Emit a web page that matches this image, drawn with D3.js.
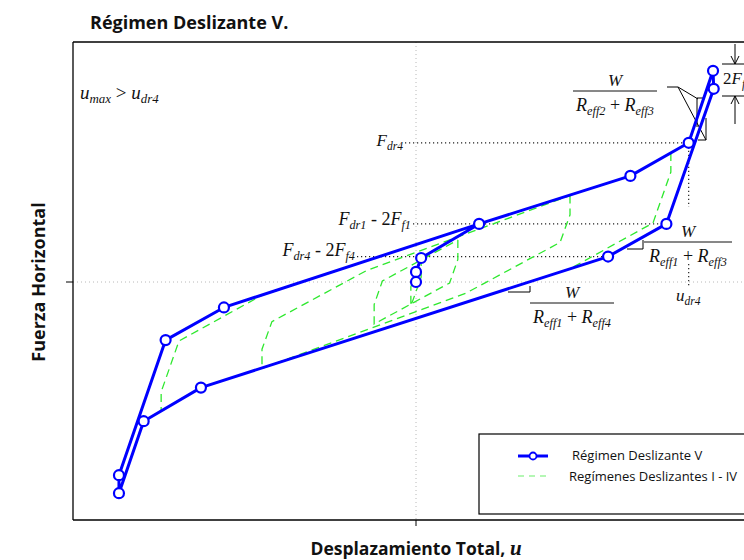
<!DOCTYPE html>
<html><head><meta charset="utf-8">
<script src="https://cdn.jsdelivr.net/npm/d3@7"></script>
<style>body{margin:0;background:#fff}</style>
</head><body>
<svg id="chart" width="744" height="560"></svg>
<script>
// Régimen Deslizante V: complete loop (normalised displacement u, force F)
const regimeV_u = [0, 0, 1.5, 18.4, 62.5, 79.5, 86.6, 86.8, 73.0, 56.0, -62.7, -79.4, -86.6, -86.6, -73.0, -56.0, 18.4];
const regimeV_F = [0, 4.2, 10.0, 24.2, 44.2, 58.0, 88.0, 80.5, 24.2, 10.6, -44.0, -58.0, -88.0, -80.5, -24.2, -10.6, 24.2];

// Regímenes Deslizantes I - IV
const initial_u = [0, 0, 1.5, 18.4];
const initial_F = [0, 4.2, 10.0, 24.2];
const regimeI_u = [1.5, 1.5, -1.5, -1.5, 1.5];
const regimeI_F = [10.0, 2.0, -10.0, -2.0, 10.0];
const regimeII_u = [12.2, 12.2, 9.8, -12.2, -12.2, -9.8, 12.2];
const regimeII_F = [17.5, 9.4, -0.4, -17.5, -9.4, 0.4, 17.5];
const regimeIII_u = [44.9, 44.9, 42.0, 14.5, -44.9, -44.9, -42.0, -14.5, 44.9];
const regimeIII_F = [36.0, 28.0, 16.5, -4.7, -36.0, -28.0, -16.5, 4.7, 36.0];
const regimeIV_u = [74.3, 74.3, 69.1, 44.9, -62.7, -74.3, -74.3, -69.1, -44.9, 18.4, 62.5, 74.3];
const regimeIV_F = [53.8, 45.8, 24.6, 5.5, -44.0, -53.8, -45.8, -24.6, -5.5, 24.2, 44.2, 53.8];

// Reference levels
const F_dr4 = 58.0, F_dr1_2Ff1 = 24.2, F_dr4_2Ff4 = 10.6, u_dr4 = 79.5;

const svg = d3.select("#chart");
const x = d3.scaleLinear().domain([-100, 100]).range([73, 759]);
const y = d3.scaleLinear().domain([-100, 100]).range([522, 42]);
const frame = {left: 73, top: 42, bottom: 520, right: 760};

const zip = (us, fs) => us.map((u, i) => [u, fs[i]]);
const line = d3.line().x(d => x(d[0])).y(d => y(d[1]));

const plot = svg.append("g");
svg.append("defs").append("clipPath").attr("id", "clip")
  .append("rect").attr("x", frame.left).attr("y", frame.top)
  .attr("width", frame.right - frame.left).attr("height", frame.bottom - frame.top);

// centre grid lines
plot.append("line").attr("x1", x(0)).attr("x2", x(0)).attr("y1", frame.top).attr("y2", frame.bottom)
  .attr("stroke", "#b8b8b8").attr("stroke-dasharray", "1,3");
plot.append("line").attr("x1", frame.left).attr("x2", frame.right).attr("y1", y(0)).attr("y2", y(0))
  .attr("stroke", "#b8b8b8").attr("stroke-dasharray", "1,3");

// frame and centre ticks
plot.append("line").attr("x1", frame.left).attr("x2", frame.right).attr("y1", frame.top).attr("y2", frame.top).attr("stroke", "#000").attr("stroke-width", 1.3);
plot.append("line").attr("x1", frame.left).attr("x2", frame.right).attr("y1", frame.bottom).attr("y2", frame.bottom).attr("stroke", "#000").attr("stroke-width", 1.3);
plot.append("line").attr("x1", frame.left).attr("x2", frame.left).attr("y1", frame.top).attr("y2", frame.bottom).attr("stroke", "#000").attr("stroke-width", 1.3);
plot.append("line").attr("x1", frame.left - 7).attr("x2", frame.left).attr("y1", y(0)).attr("y2", y(0)).attr("stroke", "#000");
plot.append("line").attr("x1", x(0)).attr("x2", x(0)).attr("y1", frame.bottom).attr("y2", frame.bottom + 6).attr("stroke", "#000");

// dotted reference lines
const dot = (x1, y1, x2, y2) => plot.append("line").attr("x1", x1).attr("y1", y1).attr("x2", x2).attr("y2", y2)
  .attr("stroke", "#222").attr("stroke-width", 1.2).attr("stroke-dasharray", "1.2,2.8");
dot(405, y(F_dr4), x(u_dr4), y(F_dr4));
dot(413, y(F_dr1_2Ff1), x(73.0), y(F_dr1_2Ff1));
dot(357, y(F_dr4_2Ff4), x(56.0), y(F_dr4_2Ff4));
dot(x(u_dr4), y(F_dr4), x(u_dr4), 207);
dot(x(u_dr4), 264, x(u_dr4), 286);

// slope markers
const thin = (pts) => plot.append("path").attr("d", d3.line()(pts)).attr("fill", "none").attr("stroke", "#000").attr("stroke-width", 1);
thin([[627, 249], [643, 249], [643, 240]]);
thin([[508, 292], [530, 292], [530, 286]]);
thin([[705, 98], [697, 98], [697, 127]]);
thin([[706, 118], [706, 140], [698, 140]]);
thin([[667, 87], [678, 87], [698, 99]]);
thin([[678, 87], [706, 140]]);

// 2F dimension at the peak
thin([[722, 64], [760, 64]]);
thin([[722, 96], [760, 96]]);
thin([[735, 44], [735, 64]]);
thin([[735, 96], [735, 124]]);
plot.append("path").attr("d", "M731,56 L735,64 L739,56").attr("fill", "none").attr("stroke", "#000").attr("stroke-width", 1);
plot.append("path").attr("d", "M731,104 L735,96 L739,104").attr("fill", "none").attr("stroke", "#000").attr("stroke-width", 1);

// green dashed regimes I - IV
const green = plot.append("g").attr("clip-path", "url(#clip)");
[[initial_u, initial_F], [regimeI_u, regimeI_F], [regimeII_u, regimeII_F], [regimeIII_u, regimeIII_F], [regimeIV_u, regimeIV_F]]
  .forEach(([us, fs]) => {
    green.append("path").datum(zip(us, fs)).attr("d", line)
      .attr("fill", "none").attr("stroke", "#2ee82e").attr("stroke-width", 1.3).attr("stroke-dasharray", "8,5");
  });

// blue loop: regime V
const blue = plot.append("g");
const vPts = zip(regimeV_u, regimeV_F);
blue.append("path").datum(vPts).attr("d", line).attr("fill", "none")
  .attr("stroke", "#0000ff").attr("stroke-width", 3).attr("stroke-linejoin", "round");
// green dashes drawn over the shared branches
green.append("path").datum(zip([-44.9, 18.4, 62.5, 74.3], [-5.5, 24.2, 44.2, 53.8])).attr("d", line)
  .attr("fill", "none").attr("stroke", "#2ee82e").attr("stroke-width", 1.2).attr("stroke-dasharray", "8,5");
green.append("path").datum(zip([44.9, -62.7, -74.3], [5.5, -44.0, -53.8])).attr("d", line)
  .attr("fill", "none").attr("stroke", "#2ee82e").attr("stroke-width", 1.2).attr("stroke-dasharray", "8,5");
green.append("path").datum(zip(initial_u.slice(2), initial_F.slice(2))).attr("d", line)
  .attr("fill", "none").attr("stroke", "#2ee82e").attr("stroke-width", 1.2);
blue.selectAll("circle").data(vPts.slice(0, -1)).join("circle")
  .attr("cx", d => x(d[0])).attr("cy", d => y(d[1])).attr("r", 5)
  .attr("fill", "#fff").attr("stroke", "#0000ff").attr("stroke-width", 2.2);

// math labels
function math(px, py, parts, anchor, size) {
  size = size || 17;
  const t = svg.append("text").attr("x", px).attr("y", py).attr("text-anchor", anchor || "start")
    .attr("font-family", "Liberation Serif, serif").attr("font-size", size).attr("fill", "#111");
  parts.forEach(p => {
    if (p.sub) {
      t.append("tspan").attr("dy", 4).attr("font-size", size * 0.68).attr("font-style", "italic").text(p.t);
      t.append("tspan").attr("dy", -4).text("\u200b");
    } else {
      t.append("tspan").attr("font-style", p.up ? "normal" : "italic").text(p.t);
    }
  });
  return t;
}
math(80, 99, [{t: "u"}, {t: "max", sub: true}, {t: " > ", up: true}, {t: "u"}, {t: "dr4", sub: true}], "start", 19);
math(403, y(F_dr4) + 3, [{t: "F"}, {t: "dr4", sub: true}], "end");
math(411, y(F_dr1_2Ff1) + 1, [{t: "F"}, {t: "dr1", sub: true}, {t: " - 2", up: true}, {t: "F"}, {t: "f1", sub: true}], "end", 18);
math(355, y(F_dr4_2Ff4) - 1, [{t: "F"}, {t: "dr4", sub: true}, {t: " - 2", up: true}, {t: "F"}, {t: "f4", sub: true}], "end", 18);
math(676, 301, [{t: "u"}, {t: "dr4", sub: true}]);
math(723, 84, [{t: "2", up: true}, {t: "F"}, {t: "f2", sub: true}]);

function frac(cx, cy, den, w) {
  math(cx, cy - 5, [{t: "W"}], "middle");
  svg.append("line").attr("x1", cx - w / 2).attr("x2", cx + w / 2).attr("y1", cy).attr("y2", cy).attr("stroke", "#111").attr("stroke-width", 1);
  math(cx, cy + 20, [{t: "R"}, {t: "eff" + den[0], sub: true}, {t: " + ", up: true}, {t: "R"}, {t: "eff" + den[1], sub: true}], "middle", 18);
}
frac(615, 91, ["2", "3"], 84);
frac(688, 242, ["1", "3"], 88);
frac(572, 303, ["1", "4"], 84);

// titles
svg.append("text").attr("x", 90).attr("y", 29).attr("font-family", "Open Sans, sans-serif").attr("font-weight", "bold")
  .attr("font-size", 18).attr("fill", "#111").text("Régimen Deslizante V.");
svg.append("text").attr("transform", `translate(45,${y(0)}) rotate(-90)`).attr("text-anchor", "middle")
  .attr("font-family", "Open Sans, sans-serif").attr("font-weight", "bold").attr("font-size", 18).attr("fill", "#111")
  .text("Fuerza Horizontal");
const xl = svg.append("text").attr("x", x(0)).attr("y", 555).attr("text-anchor", "middle")
  .attr("font-family", "Open Sans, sans-serif").attr("font-weight", "bold").attr("font-size", 17.5).attr("fill", "#111");
xl.append("tspan").text("Desplazamiento Total, ");
xl.append("tspan").attr("font-family", "Liberation Serif, serif").attr("font-style", "italic").attr("font-size", 21).text("u");

// legend
const lg = svg.append("g");
lg.append("rect").attr("x", 479).attr("y", 434).attr("width", 300).attr("height", 80)
  .attr("fill", "#fff").attr("stroke", "#000").attr("stroke-width", 1.2);
lg.append("line").attr("x1", 518).attr("x2", 548).attr("y1", 456).attr("y2", 456).attr("stroke", "#0000ff").attr("stroke-width", 3);
lg.append("circle").attr("cx", 533).attr("cy", 456).attr("r", 3.5).attr("fill", "#fff").attr("stroke", "#0000ff").attr("stroke-width", 1.8);
lg.append("line").attr("x1", 518).attr("x2", 548).attr("y1", 476).attr("y2", 476).attr("stroke", "#9cf59c").attr("stroke-width", 1.3).attr("stroke-dasharray", "6,5");
lg.append("text").attr("x", 572).attr("y", 460).attr("font-family", "Open Sans, sans-serif").attr("font-size", 13).attr("fill", "#111").text("Régimen Deslizante V");
lg.append("text").attr("x", 569).attr("y", 481).attr("font-family", "Open Sans, sans-serif").attr("font-size", 13).attr("fill", "#111").text("Regímenes Deslizantes I - IV");
</script>
</body></html>
